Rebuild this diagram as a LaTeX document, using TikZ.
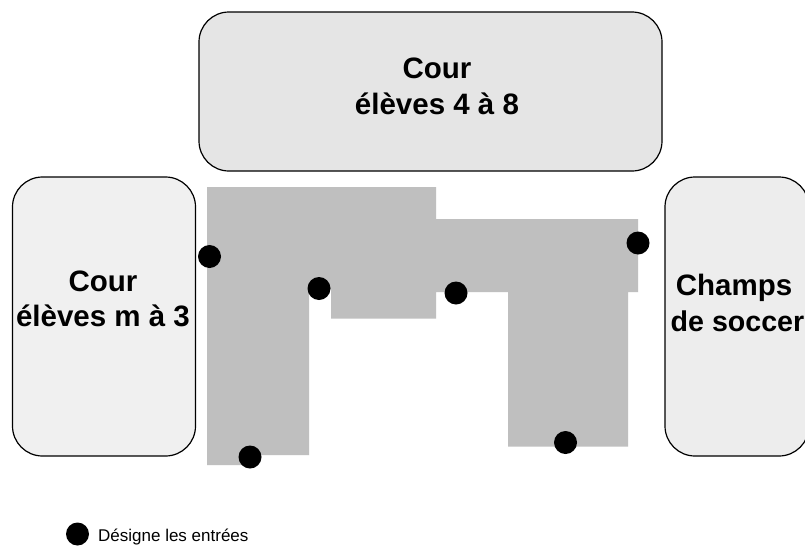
\documentclass[tikz,border=0pt]{standalone}
\usepackage{fontspec}
\setmainfont{Liberation Sans}
\tikzset{
  cour/.style={draw=black,line width=1.2pt,rounded corners=30pt},
  lab/.style={inner sep=0pt,anchor=base,font=\bfseries\fontsize{29.5}{34}\selectfont,text=black},
  entree/.style={circle,fill=black,inner sep=0pt,minimum size=23pt},
}
\begin{document}
\begin{tikzpicture}[x=1pt,y=-1pt]
\useasboundingbox (0,0) rectangle (805,546);
\fill[white] (0,0) rectangle (805,546);
\draw[cour,fill=black!10] (199,12) rectangle (662,171);
\draw[cour,fill=black!6] (12.5,177) rectangle (195.5,456);
\draw[cour,fill=black!7] (665,177) rectangle (809,456);
\fill[black!25] (207,187) -- (436,187) -- (436,219) -- (638,219) -- (638,292) -- (628,292)
  -- (628,446.5) -- (508,446.5) -- (508,292) -- (436,292) -- (436,318.5) -- (331,318.5)
  -- (331,289) -- (309,289) -- (309,455) -- (250,455) -- (250,465) -- (207,465) -- cycle;
\node[entree] (e1) at (209.5,256.5) {};
\node[entree] (e2) at (319,288.5) {};
\node[entree] (e3) at (250,457) {};
\node[entree] (e4) at (456,293) {};
\node[entree] (e5) at (638,243) {};
\node[entree] (e6) at (565.5,442.5) {};
\node[entree] (e7) at (77.5,534) {};
\node[lab] (t1) at (437,78) {Cour};
\node[lab] (t2) at (437,114) {élèves 4 à 8};
\node[lab] (t3) at (103,291) {Cour};
\node[lab] (t4) at (103,326) {élèves m à 3};
\node[lab] (t5) at (734,295) {Champs};
\node[lab,anchor=base west,font=\bfseries\fontsize{28.6}{34}\selectfont] (t6) at (670.5,331) {de soccer};
\node[inner sep=0pt,anchor=base west,font=\fontsize{17}{20}\selectfont] (t7) at (98,541) {Désigne les entrées};
\end{tikzpicture}
\end{document}
